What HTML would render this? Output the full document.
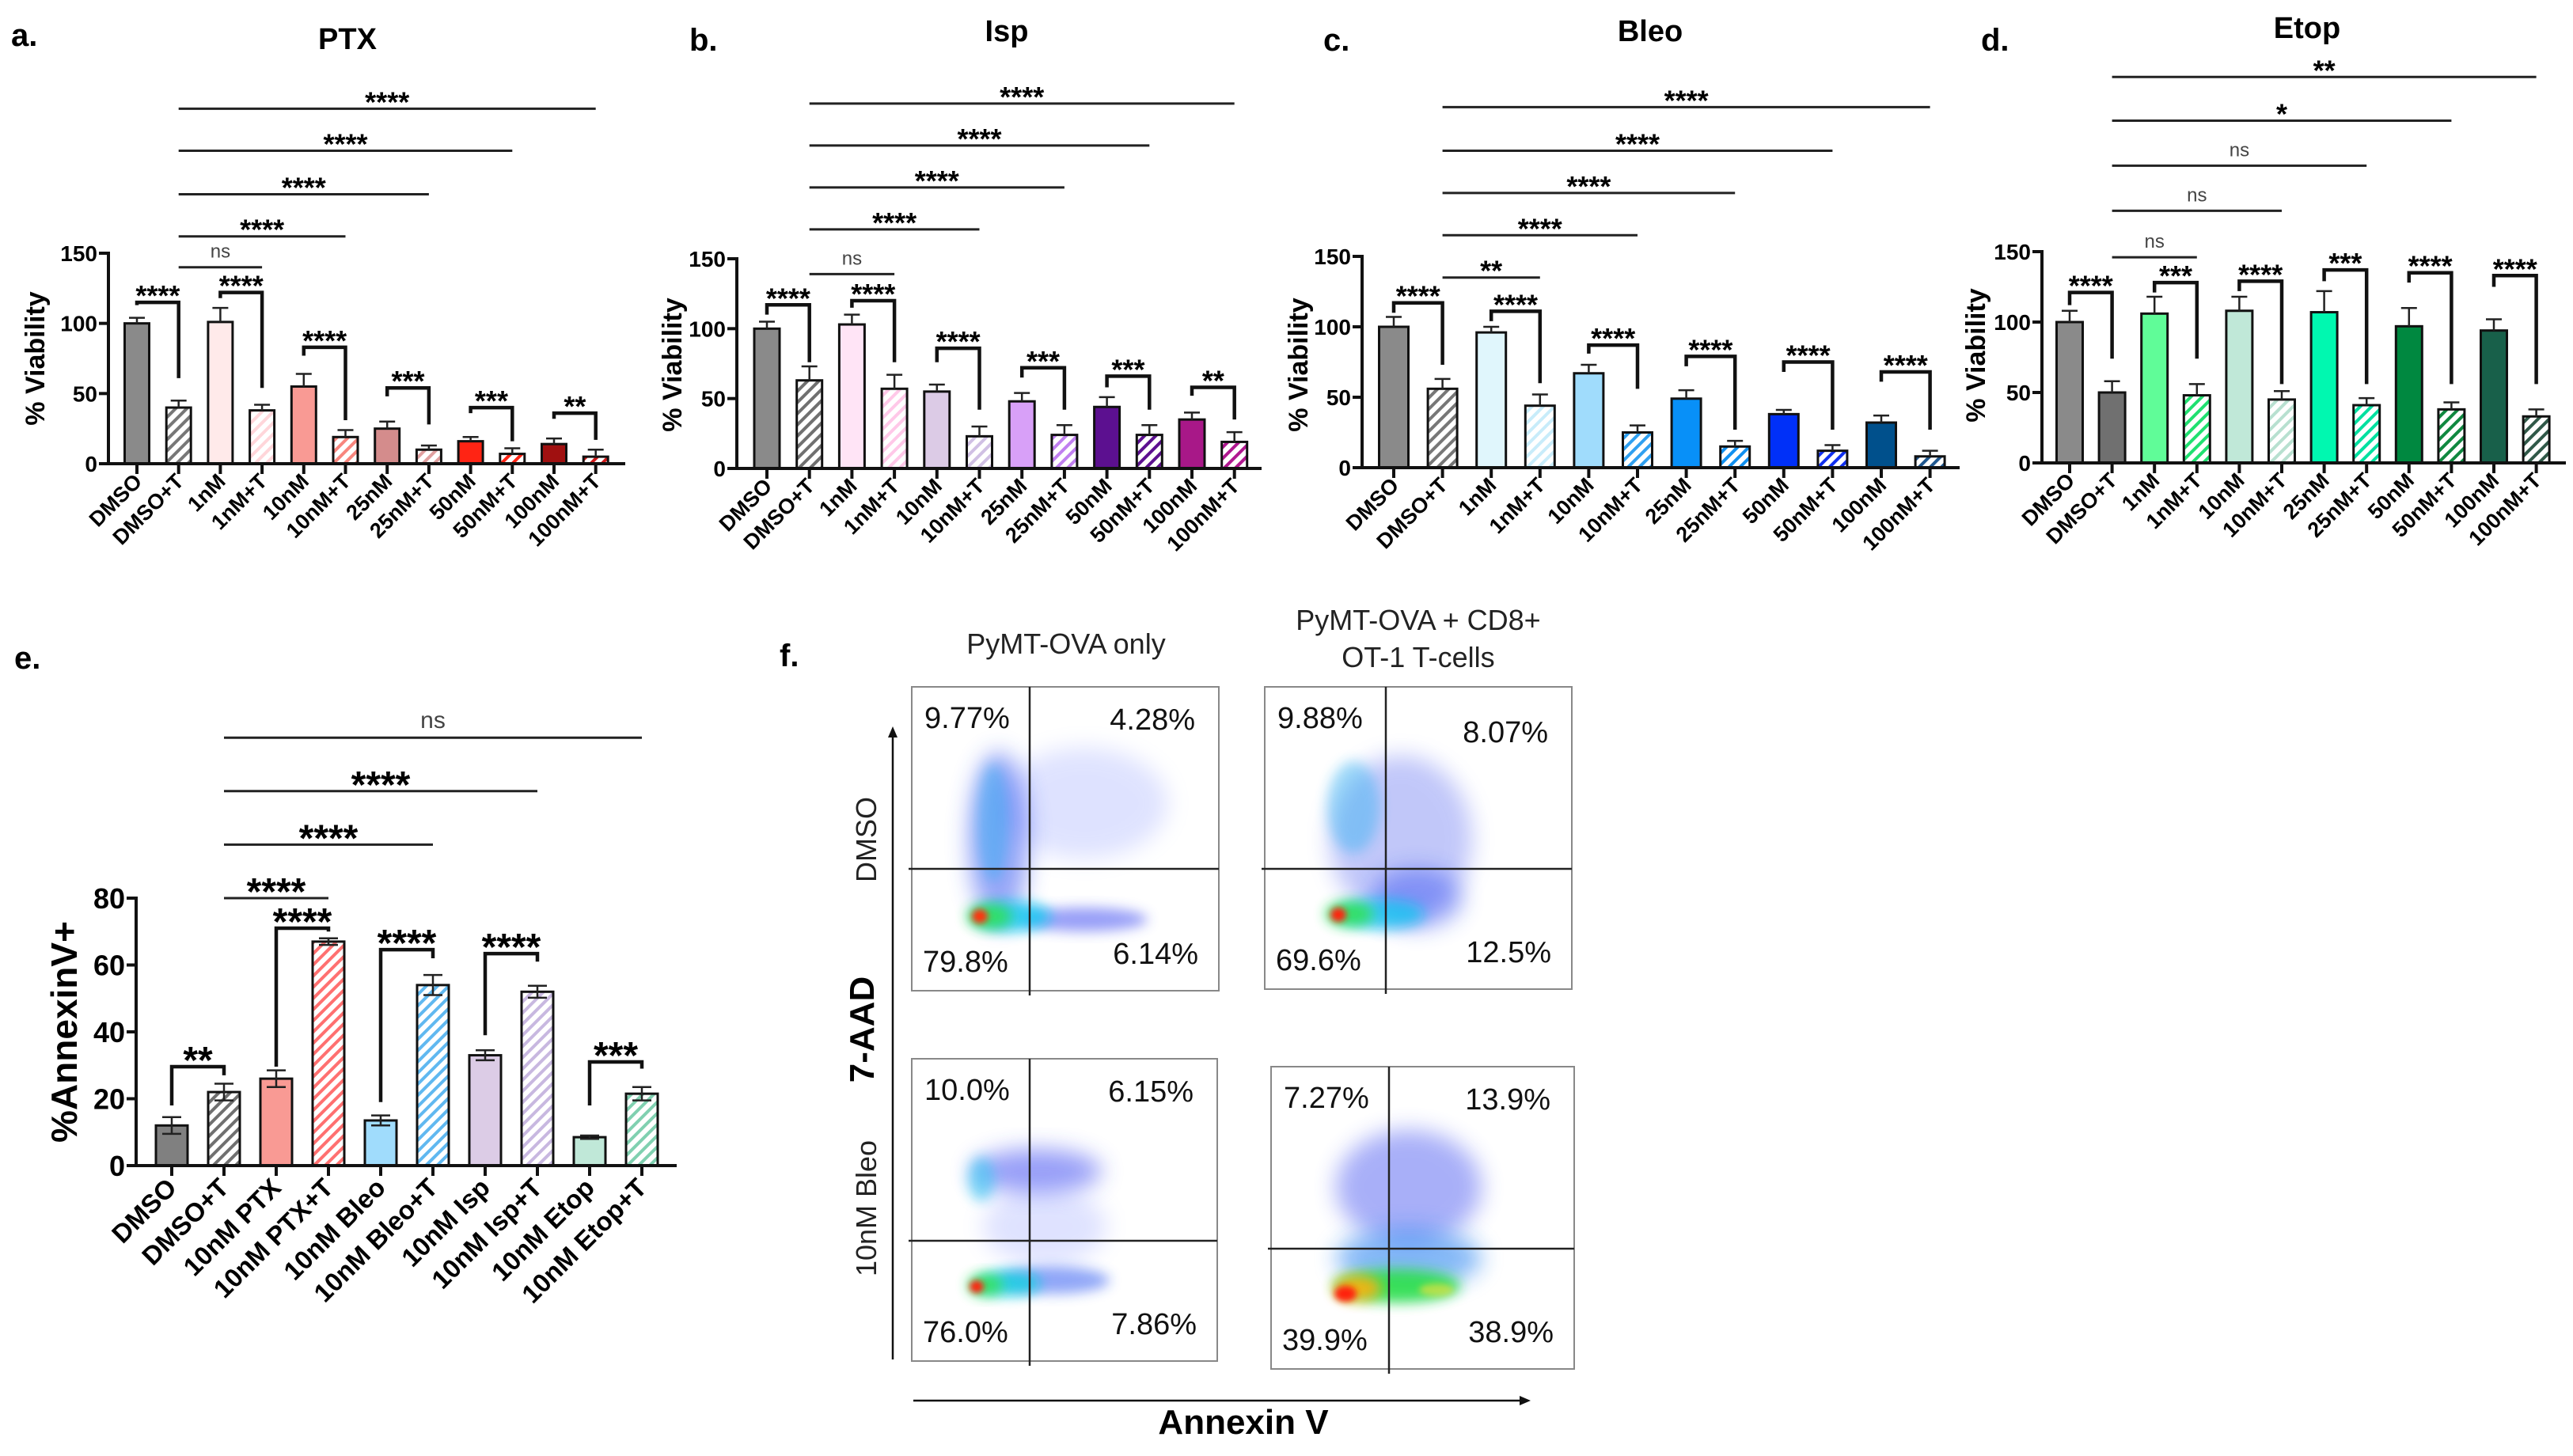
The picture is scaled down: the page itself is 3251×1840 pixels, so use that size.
<!DOCTYPE html>
<html><head><meta charset="utf-8">
<style>
html,body{margin:0;padding:0;background:#fff;}
svg{display:block;font-family:"Liberation Sans",Arial,sans-serif;}
</style></head>
<body>
<svg id="fig" width="3251" height="1840" viewBox="0 0 3251 1840" xmlns="http://www.w3.org/2000/svg">
<defs id="defs">
<filter id="blur8" x="-50%" y="-50%" width="200%" height="200%"><feGaussianBlur stdDeviation="8"/></filter>
<filter id="blur14" x="-50%" y="-50%" width="200%" height="200%"><feGaussianBlur stdDeviation="14"/></filter>
<filter id="blur4" x="-50%" y="-50%" width="200%" height="200%"><feGaussianBlur stdDeviation="4"/></filter>
</defs>
<g id="root"></g>
</svg>
<script>
// ---------- Shared categories ----------
var vCategories = ["DMSO","DMSO+T","1nM","1nM+T","10nM","10nM+T","25nM","25nM+T","50nM","50nM+T","100nM","100nM+T"];
var vTicks = [0,50,100,150];

// ---------- Panel a: PTX ----------
var aValues = [100,40,101,38,55,19,25,10,16,7,14,5];
var aErrTop = [104,45,111,42,64,24,30,13,19,11,18,10];
var aColors = ["#8a8a8a","#777777","#ffeaea","#ffd6da","#f99a94","#f8867e","#d48c8c","#e0a0a0","#ff2414","#ff2414","#a01010","#d01818"];
var aHatch  = [0,1,0,1,0,1,0,1,0,1,0,1];
var aLines  = [[1,3,140,"ns"],[1,5,162,"****"],[1,7,192,"****"],[1,9,223,"****"],[1,11,253,"****"]];
var aPairs  = [[0,1,115,113,61,"****"],[2,3,122,118,54,"****"],[4,5,83,77,31,"****"],[6,7,54,48,28,"***"],[8,9,40,36,16,"***"],[10,11,36,32,17,"**"]];

// ---------- Panel b: Isp ----------
var bValues = [100,63,103,57,55,23,48,24,44,24,35,19];
var bErrTop = [105,73,110,67,60,30,54,31,51,31,40,26];
var bColors = ["#8a8a8a","#707070","#ffe4f6","#ffc8e8","#dccbe6","#d0c0e4","#d8a0f8","#c080f0","#5c1090","#5c1090","#a81888","#b01890"];
var bHatch  = [0,1,0,1,0,1,0,1,0,1,0,1];
var bLines  = [[1,3,139,"ns"],[1,5,171,"****"],[1,7,201,"****"],[1,9,231,"****"],[1,11,261,"****"]];
var bPairs  = [[0,1,117,110,76,"****"],[2,3,120,115,76,"****"],[4,5,86,76,42,"****"],[6,7,72,65,42,"***"],[8,9,66,58,42,"***"],[10,11,58,52,35,"**"]];

// ---------- Panel c: Bleo ----------
var cValues = [100,56,96,44,67,25,49,15,38,12,32,8];
var cErrTop = [107,63,100,52,73,30,55,19,41,16,37,12];
var cColors = ["#8a8a8a","#777777","#e0f6fc","#c8ecfa","#a0dcfc","#30a0f0","#0890f8","#1090f0","#0030f8","#1030f0","#00508c","#205890"];
var cHatch  = [0,1,0,1,0,1,0,1,0,1,0,1];
var cLines  = [[1,3,135,"**"],[1,5,165,"****"],[1,7,195,"****"],[1,9,225,"****"],[1,11,256,"****"]];
var cPairs  = [[0,1,117,110,73,"****"],[2,3,111,104,60,"****"],[4,5,87,81,56,"****"],[6,7,79,72,27,"****"],[8,9,75,68,27,"****"],[10,11,68,61,27,"****"]];

// ---------- Panel d: Etop ----------
var dValues = [100,50,106,48,108,45,107,41,97,38,94,33];
var dErrTop = [108,58,118,56,118,51,122,46,110,43,102,38];
var dColors = ["#8a8a8a","#707070","#60fc98","#20e070","#c0e8d8","#b8e0d0","#00f8b0","#00e0a0","#008840","#108840","#18604a","#305848"];
var dHatch  = [0,0,0,1,0,1,0,1,0,1,0,1];
var dLines  = [[1,3,146,"ns"],[1,5,179,"ns"],[1,7,211,"ns"],[1,9,243,"*"],[1,11,274,"**"]];
var dPairs  = [[0,1,121,112,74,"****"],[2,3,128,121,74,"***"],[4,5,129,122,56,"****"],[6,7,137,129,56,"***"],[8,9,135,128,56,"****"],[10,11,133,125,56,"****"]];

// ---------- Panel e: AnnexinV ----------
var eCategories = ["DMSO","DMSO+T","10nM PTX","10nM PTX+T","10nM Bleo","10nM Bleo+T","10nM Isp","10nM Isp+T","10nM Etop","10nM Etop+T"];
var eTicks  = [0,20,40,60,80];
var eValues = [12,22,26,67,13.5,54,33,52,8.5,21.5];
var eErr    = [2.5,2.5,2.5,1,1.5,3,1.5,1.8,0.5,2];
var eColors = ["#808080","#707070","#f99a94","#ff7070","#a0dcfc","#60b8f0","#dccce6","#c8b8e0","#c0e8d8","#80d0b0"];
var eHatch  = [0,1,0,1,0,1,0,1,0,1];
var eLines  = [[1,3,80,"****"],[1,5,96,"****"],[1,7,112,"****"],[1,9,128,"ns"]];
var ePairs  = [[0,1,29.6,18,27,"**"],[2,3,71,29.6,70,"****"],[4,5,64.6,19,62,"****"],[6,7,63.4,39,61,"****"],[8,9,31,18,29,"***"]];

// ---------- Panel f: quadrant percentages ----------
var fPercents = [
  ["9.77%","4.28%","79.8%","6.14%"],
  ["9.88%","8.07%","69.6%","12.5%"],
  ["10.0%","6.15%","76.0%","7.86%"],
  ["7.27%","13.9%","39.9%","38.9%"]
];

var NS="http://www.w3.org/2000/svg";
var root=document.getElementById('root');
var defs=document.getElementById('defs');
function mk(tag,attrs,parent){var e=document.createElementNS(NS,tag);for(var k in attrs)e.setAttribute(k,attrs[k]);(parent||root).appendChild(e);return e;}
function txt(s,attrs,parent){var e=mk('text',attrs,parent);e.textContent=s;return e;}
var patId=0;
function hatch(color){
  var id='h'+(patId++);
  var p=mk('pattern',{id:id,patternUnits:'userSpaceOnUse',width:10,height:10,patternTransform:'rotate(45)'},defs);
  mk('rect',{x:0,y:0,width:10,height:10,fill:'#fff'},p);
  mk('rect',{x:0,y:0,width:4,height:10,fill:color},p);
  return 'url(#'+id+')';
}

function barPanel(cfg){
  var g=mk('g',{});
  
  
  var yS=function(v){return cfg.y0-(cfg.y0-cfg.yTop)*v/cfg.vmax;};
  var xS=function(i){return cfg.bx0+i*cfg.dx;};
  if(cfg.title){var t=txt(cfg.title,{x:cfg.titleX,y:cfg.titleY,'font-size':38,'font-weight':'bold','text-anchor':'middle'},g);
    }
  var l=txt(cfg.letter,{x:cfg.letterX,y:cfg.letterY,'font-size':40,'font-weight':'bold'},g);
  
  var yl=txt(cfg.ylabel,{x:0,y:0,'font-size':cfg.ylFont,'font-weight':'bold','text-anchor':'middle',transform:'translate('+cfg.ylX+','+cfg.ylY+') rotate(-90)'},g);
  
  for(var i=0;i<cfg.values.length;i++){
    var x=xS(i), top=yS(cfg.values[i]);
    var fill=cfg.hatch[i]?hatch(cfg.colors[i]):cfg.colors[i];
    var r=mk('rect',{x:x-cfg.bw/2,y:top,width:cfg.bw,height:cfg.y0-top,fill:fill,stroke:'#111','stroke-width':3},g);
    
    
    var et, eb;
    if(cfg.errTop){et=yS(cfg.errTop[i]);eb=top;}
    else{et=yS(cfg.values[i]+cfg.err[i]);eb=yS(cfg.values[i]-cfg.err[i]);}
    var eg=mk('g',{stroke:'#222','stroke-width':2.5,fill:'none'},g);
    
    mk('line',{x1:x,y1:eb,x2:x,y2:et},eg);
    mk('line',{x1:x-cfg.cap,y1:et,x2:x+cfg.cap,y2:et},eg);
    if(!cfg.errTop) mk('line',{x1:x-cfg.cap,y1:eb,x2:x+cfg.cap,y2:eb},eg);
    mk('line',{x1:x,y1:cfg.y0,x2:x,y2:cfg.y0+13,stroke:'#111','stroke-width':4},g);
    var lb=txt(cfg.cats[i],{x:0,y:0,'font-size':cfg.catFont,'font-weight':'bold','text-anchor':'end',transform:'translate('+(x+8)+','+(cfg.y0+cfg.catDy)+') rotate(-45)'},g);
    
  }
  var ax=mk('line',{x1:cfg.ax,y1:cfg.yTop-2,x2:cfg.ax,y2:cfg.y0+2,stroke:'#111','stroke-width':4},g);
  
  var xa=mk('line',{x1:cfg.ax-12,y1:cfg.y0,x2:cfg.axEnd,y2:cfg.y0,stroke:'#111','stroke-width':4},g);
  
  cfg.ticks.forEach(function(t){
    var y=yS(t);
    mk('line',{x1:cfg.ax-12,y1:y,x2:cfg.ax,y2:y,stroke:'#111','stroke-width':4},g);
    var tl=txt(String(t),{x:cfg.ax-14,y:y+cfg.tickFont*0.36,'font-size':cfg.tickFont,'font-weight':'bold','text-anchor':'end'},g);
    
  });
  cfg.lines.forEach(function(L){
    var y=yS(L[2]), x1=xS(L[0]), x2=xS(L[1]);
    var lg=mk('g',{},g);
    
    mk('line',{x1:x1,y1:y,x2:x2,y2:y,stroke:'#222','stroke-width':3},lg);
    if(L[3]==='ns') txt('ns',{x:(x1+x2)/2,y:y-12,'font-size':cfg.nsFont,'text-anchor':'middle',fill:'#444'},lg);
    else txt(L[3],{x:(x1+x2)/2,y:y+cfg.starDy,'font-size':cfg.starFont,'font-weight':'bold','text-anchor':'middle'},lg);
  });
  cfg.pairs.forEach(function(P){
    var x1=xS(P[0]),x2=xS(P[1]),yt=yS(P[2]),yl2=yS(P[3]),yr=yS(P[4]);
    var bg=mk('g',{},g);
    
    mk('path',{d:'M'+x1+' '+yl2+'V'+yt+'H'+x2+'V'+yr,fill:'none',stroke:'#111','stroke-width':4.5},bg);
    txt(P[5],{x:(x1+x2)/2,y:yt+cfg.starDy,'font-size':cfg.starFont,'font-weight':'bold','text-anchor':'middle'},bg);
  });
}

var common={vmax:150,ticks:vTicks,cats:vCategories,cap:10,catFont:27,catDy:24,tickFont:28,starFont:36,starDy:4,nsFont:24,ylabel:'% Viability',ylFont:34};
function ext(o){var r={};for(var k in common)r[k]=common[k];for(var k2 in o)r[k2]=o[k2];return r;}

barPanel(ext({name:'panel-a-ptx',title:'PTX',titleX:439,titleY:62,letter:'a.',letterX:14,letterY:58,ylX:56,ylY:453,
  ax:137,y0:586,yTop:320,bx0:173,dx:52.7,bw:31,axEnd:790,values:aValues,errTop:aErrTop,colors:aColors,hatch:aHatch,lines:aLines,pairs:aPairs}));
barPanel(ext({name:'panel-b-isp',title:'Isp',titleX:1272,titleY:52,letter:'b.',letterX:871,letterY:64,ylX:861,ylY:461,
  ax:931,y0:592,yTop:327,bx0:969,dx:53.7,bw:32,axEnd:1594,values:bValues,errTop:bErrTop,colors:bColors,hatch:bHatch,lines:bLines,pairs:bPairs}));
barPanel(ext({name:'panel-c-bleo',title:'Bleo',titleX:2085,titleY:52,letter:'c.',letterX:1672,letterY:64,ylX:1652,ylY:461,
  ax:1721,y0:591,yTop:324,bx0:1761,dx:61.6,bw:37,axEnd:2476,values:cValues,errTop:cErrTop,colors:cColors,hatch:cHatch,lines:cLines,pairs:cPairs}));
barPanel(ext({name:'panel-d-etop',title:'Etop',titleX:2915,titleY:48,letter:'d.',letterX:2503,letterY:64,ylX:2508,ylY:449,
  ax:2580,y0:585,yTop:318,bx0:2615,dx:53.6,bw:33,axEnd:3242,values:dValues,errTop:dErrTop,colors:dColors,hatch:dHatch,lines:dLines,pairs:dPairs}));
barPanel({name:'panel-e-annexin',title:null,letter:'e.',letterX:18,letterY:845,ylabel:'%AnnexinV+',ylFont:46,ylX:97,ylY:1304,
  vmax:80,ticks:eTicks,cats:eCategories,cap:12,catFont:33,catDy:30,tickFont:36,starFont:48,starDy:8,nsFont:30,
  ax:172,y0:1473,yTop:1135,bx0:217,dx:66,bw:40,axEnd:855,values:eValues,err:eErr,colors:eColors,hatch:eHatch,lines:eLines,pairs:ePairs});

// ---------- Panel f: flow plots ----------
var fg=mk('g',{});


var fl=txt('f.',{x:985,y:842,'font-size':40,'font-weight':'bold'},fg);

var h1=txt('PyMT-OVA only',{x:1347,y:826,'font-size':36,'text-anchor':'middle',fill:'#222'},fg);

var h2=txt('PyMT-OVA + CD8+',{x:1792,y:796,'font-size':36,'text-anchor':'middle',fill:'#222'},fg);

var h3=txt('OT-1 T-cells',{x:1792,y:843,'font-size':36,'text-anchor':'middle',fill:'#222'},fg);

var r1=txt('DMSO',{x:0,y:0,'font-size':36,'text-anchor':'middle',fill:'#222',transform:'translate(1107,1061) rotate(-90)'},fg);

var r2=txt('10nM Bleo',{x:0,y:0,'font-size':36,'text-anchor':'middle',fill:'#222',transform:'translate(1107,1527) rotate(-90)'},fg);

var r3=txt('7-AAD',{x:0,y:0,'font-size':44,'font-weight':'bold','text-anchor':'middle',transform:'translate(1104,1301) rotate(-90)'},fg);

var r4=txt('Annexin V',{x:1571,y:1812,'font-size':44,'font-weight':'bold','text-anchor':'middle'},fg);

mk('line',{x1:1128,y1:1718,x2:1128,y2:930,stroke:'#111','stroke-width':2.5},fg);
mk('path',{d:'M1122 932 L1128 918 L1134 932 Z',fill:'#111'},fg);
mk('line',{x1:1154,y1:1770,x2:1922,y2:1770,stroke:'#111','stroke-width':2.5},fg);
mk('path',{d:'M1920 1764 L1934 1770 L1920 1776 Z',fill:'#111'},fg);

var boxes=[
 {x1:1152,y1:868,x2:1540,y2:1252,qx:1301,qy:1098},
 {x1:1598,y1:868,x2:1986,y2:1250,qx:1751,qy:1098},
 {x1:1152,y1:1338,x2:1538,y2:1720,qx:1301,qy:1568},
 {x1:1606,y1:1348,x2:1989,y2:1730,qx:1755,qy:1578}
];
var clouds=[
 [[1370,1015,105,70,'#8090ff',0.25,'blur14'],[1262,1060,38,110,'#3050f0',0.5,'blur14'],[1255,1040,20,75,'#20b0f0',0.4,'blur8'],
  [1370,1162,80,15,'#3040f0',0.5,'blur8'],[1280,1158,48,19,'#10c8f0',0.8,'blur8'],[1250,1158,28,16,'#30e060',0.95,'blur8'],[1238,1158,10,9,'#ff3010',1,'blur4']],
 [[1770,1060,90,105,'#5060f0',0.35,'blur14'],[1710,1020,33,58,'#20b0f0',0.4,'blur8'],[1790,1135,58,38,'#2040f0',0.4,'blur14'],
  [1745,1155,55,19,'#10c8f0',0.75,'blur8'],[1705,1155,30,16,'#30e060',0.95,'blur8'],[1691,1156,10,9,'#ff2010',1,'blur4']],
 [[1310,1480,82,28,'#3040f0',0.5,'blur14'],[1240,1490,17,28,'#20c0f0',0.55,'blur8'],[1320,1550,78,48,'#7080ff',0.22,'blur14'],
  [1330,1618,72,17,'#2050f0',0.5,'blur8'],[1275,1622,40,16,'#10d0e0',0.8,'blur8'],[1245,1624,22,14,'#30e060',0.95,'blur8'],[1234,1626,9,8,'#ff2010',1,'blur4']],
 [[1780,1500,92,72,'#4050f0',0.45,'blur14'],[1780,1590,92,38,'#2080f0',0.55,'blur14'],[1765,1625,80,21,'#20e040',0.85,'blur8'],
  [1715,1628,30,16,'#ffb010',0.9,'blur8'],[1700,1635,14,10,'#ff2010',1,'blur4'],[1815,1630,22,8,'#e0e040',0.7,'blur4']]
];
boxes.forEach(function(b,k){
  var pg=mk('g',{},fg);
  
  
  var cid='clip'+k;
  var cp=mk('clipPath',{id:cid},defs);
  mk('rect',{x:b.x1,y:b.y1,width:b.x2-b.x1,height:b.y2-b.y1},cp);
  var cg=mk('g',{'clip-path':'url(#'+cid+')'},pg);
  clouds[k].forEach(function(c){
    mk('ellipse',{cx:c[0],cy:c[1],rx:c[2],ry:c[3],fill:c[4],opacity:c[5],filter:'url(#'+c[6]+')'},cg);
  });
  mk('rect',{x:b.x1,y:b.y1,width:b.x2-b.x1,height:b.y2-b.y1,fill:'none',stroke:'#888','stroke-width':2},pg);
  mk('line',{x1:b.qx,y1:b.y1,x2:b.qx,y2:b.y2+6,stroke:'#222','stroke-width':2.5},pg);
  mk('line',{x1:b.x1-4,y1:b.qy,x2:b.x2,y2:b.qy,stroke:'#222','stroke-width':2.5},pg);
  var p=fPercents[k];
  var ty=[b.y1+52,b.y1+54,b.y2-24,b.y2-34];
  var t1=txt(p[0],{x:b.x1+16,y:ty[0],'font-size':38,fill:'#111'},pg);
  var t2=txt(p[1],{x:b.x2-30,y:ty[1]+(k==1?16:0),'font-size':38,'text-anchor':'end',fill:'#111'},pg);
  var t3=txt(p[2],{x:b.x1+14,y:ty[2],'font-size':38,fill:'#111'},pg);
  var t4=txt(p[3],{x:b.x2-26,y:ty[3],'font-size':38,'text-anchor':'end',fill:'#111'},pg);
  [t1,t2,t3,t4].forEach(function(t){});
});
</script>
</body></html>
